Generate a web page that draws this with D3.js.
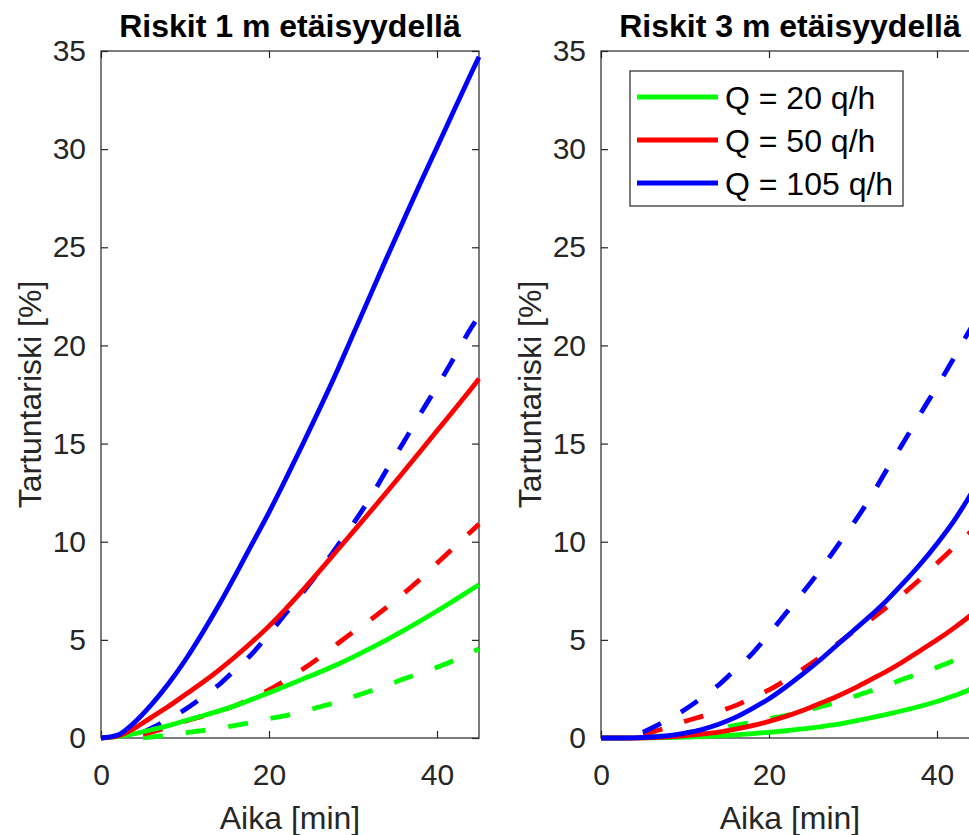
<!DOCTYPE html>
<html>
<head>
<meta charset="utf-8">
<script src="https://cdn.jsdelivr.net/npm/d3@7"></script>
<style>
    html, body { margin: 0; padding: 0; background: #ffffff; }
    svg { display: block; font-family: "Liberation Sans", Arial, Helvetica, sans-serif; }
</style>
</head>
<body>
<svg id="chart" width="969" height="835"></svg>
<script>
// Time grids [min]
const timeSolid  = [0, 2, 4, 6, 8, 10, 12, 14, 16, 18, 20, 22, 24, 26, 28, 30, 32, 34, 36, 38, 40, 42, 44, 45];
const timeDashed = [5, 6, 8, 10, 12, 14, 16, 18, 20, 22, 24, 26, 28, 30, 32, 34, 36, 38, 40, 42, 44, 45];

// Solid lines, 1 m distance [%]
const green1m = [0, 0.07, 0.22, 0.42, 0.63, 0.88, 1.12, 1.37, 1.65, 1.97, 2.3, 2.65, 3.0, 3.35, 3.72, 4.12, 4.55, 5.0, 5.47, 5.96, 6.47, 7.0, 7.54, 7.81];
const red1m   = [0, 0.1, 0.5, 1.05, 1.6, 2.2, 2.8, 3.45, 4.15, 4.9, 5.7, 6.58, 7.52, 8.5, 9.5, 10.5, 11.5, 12.52, 13.55, 14.6, 15.65, 16.7, 17.76, 18.3];
const blue1m  = [0, 0.15, 0.8, 1.7, 2.75, 3.95, 5.3, 6.75, 8.3, 9.9, 11.5, 13.2, 14.95, 16.75, 18.6, 20.55, 22.5, 24.45, 26.35, 28.25, 30.1, 31.95, 33.8, 34.7];

// Solid lines, 3 m distance [%]
const green3m = [0, 0, 0.005, 0.01, 0.02, 0.04, 0.07, 0.11, 0.16, 0.22, 0.29, 0.37, 0.46, 0.57, 0.69, 0.85, 1.02, 1.2, 1.4, 1.62, 1.86, 2.15, 2.48, 2.65];
const red3m   = [0, 0, 0, 0.02, 0.06, 0.12, 0.2, 0.3, 0.45, 0.63, 0.85, 1.1, 1.4, 1.75, 2.1, 2.5, 2.95, 3.4, 3.9, 4.45, 5.0, 5.6, 6.25, 6.6];
const blue3m  = [0, 0, 0.01, 0.05, 0.12, 0.25, 0.43, 0.7, 1.05, 1.5, 2.0, 2.6, 3.25, 3.95, 4.7, 5.45, 6.2, 7.0, 7.9, 8.85, 9.9, 11.05, 12.4, 13.1];

// Dashed lines (same in both panels) [%]
const greenDashed = [0.02, 0.05, 0.15, 0.26, 0.37, 0.5, 0.64, 0.8, 0.98, 1.14, 1.36, 1.58, 1.82, 2.1, 2.38, 2.68, 3.0, 3.3, 3.6, 3.95, 4.35, 4.53];
const redDashed   = [0.2, 0.3, 0.55, 0.85, 1.1, 1.35, 1.65, 2.05, 2.45, 2.95, 3.5, 4.1, 4.75, 5.4, 6.0, 6.65, 7.35, 8.1, 8.9, 9.7, 10.5, 10.9];
const blueDashed  = [0.3, 0.5, 0.95, 1.45, 2.05, 2.7, 3.5, 4.3, 5.3, 6.35, 7.4, 8.5, 9.7, 10.9, 12.2, 13.65, 15.05, 16.5, 17.9, 19.35, 20.85, 21.5];

const legendLabels = ["Q = 20 q/h", "Q = 50 q/h", "Q = 105 q/h"];
const colors = ["#00ff00", "#ff0000", "#0000ff"];
const panelTitles = ["Riskit 1 m etäisyydellä", "Riskit 3 m etäisyydellä"];
const xTicks = [0, 20, 40];
const yTicks = [0, 5, 10, 15, 20, 25, 30, 35];

const axisColor = "#262626";
const svg = d3.select("#chart");
svg.append("rect").attr("width", 969).attr("height", 835).attr("fill", "#ffffff");

const plotTop = 51, plotBottom = 738, plotWidth = 378;
const panelLeft = [101, 601];

function zip(times, values)
{
    return times.map((t, i) => [t, values[i]]);
}

function drawPanel(index, solids, showLegend)
{
    const x = d3.scaleLinear().domain([0, 45]).range([panelLeft[index], panelLeft[index] + plotWidth]);
    const y = d3.scaleLinear().domain([0, 35]).range([plotBottom, plotTop]);
    const g = svg.append("g");

    // Box
    g.append("rect")
        .attr("x", x(0)).attr("y", y(35))
        .attr("width", x(45) - x(0)).attr("height", y(0) - y(35))
        .attr("fill", "none").attr("stroke", axisColor).attr("stroke-width", 1.2);

    // Axes with inward ticks
    const styleAxis = sel => {
        sel.select(".domain").remove();
        sel.selectAll(".tick line").attr("stroke", axisColor).attr("stroke-width", 1.2);
        sel.selectAll(".tick text").attr("fill", axisColor)
            .style("font-size", "30px").style("font-family", "'Liberation Sans', Arial, sans-serif");
    };

    g.append("g").attr("transform", `translate(0,${plotBottom})`)
        .call(d3.axisBottom(x).tickValues(xTicks).tickSizeInner(-7).tickSizeOuter(0).tickPadding(0).tickFormat(d3.format("d")))
        .call(styleAxis)
        .call(sel => sel.selectAll(".tick text").attr("y", 47).attr("dy", null));
    g.append("g").attr("transform", `translate(0,${plotTop})`)
        .call(d3.axisTop(x).tickValues(xTicks).tickSizeInner(-7).tickSizeOuter(0).tickFormat(""))
        .call(styleAxis);
    g.append("g").attr("transform", `translate(${x(0)},0)`)
        .call(d3.axisLeft(y).tickValues(yTicks).tickSizeInner(-7).tickSizeOuter(0).tickPadding(15).tickFormat(d3.format("d")))
        .call(styleAxis);
    g.append("g").attr("transform", `translate(${x(45)},0)`)
        .call(d3.axisRight(y).tickValues(yTicks).tickSizeInner(-7).tickSizeOuter(0).tickFormat(""))
        .call(styleAxis);

    const line = d3.line().x(d => x(d[0])).y(d => y(d[1])).curve(d3.curveMonotoneX);

    // Dashed reference lines first, solid lines on top
    [greenDashed, redDashed, blueDashed].forEach((values, i) => {
        g.append("path").datum(zip(timeDashed, values))
            .attr("d", line).attr("fill", "none")
            .attr("stroke", colors[i]).attr("stroke-width", 4.8)
            .attr("stroke-dasharray", "20,23");
    });
    solids.forEach((values, i) => {
        g.append("path").datum(zip(timeSolid, values))
            .attr("d", line).attr("fill", "none")
            .attr("stroke", colors[i]).attr("stroke-width", 4.8)
            .attr("stroke-linejoin", "round");
    });

    // Texts
    const mid = (x(0) + x(45)) / 2;
    g.append("text").attr("x", mid).attr("y", 37)
        .attr("text-anchor", "middle").attr("fill", "#000000")
        .style("font-size", "32px").style("font-weight", "bold")
        .text(panelTitles[index]);
    g.append("text").attr("x", mid).attr("y", 829)
        .attr("text-anchor", "middle").attr("fill", axisColor)
        .style("font-size", "32px")
        .text("Aika [min]");
    g.append("text")
        .attr("transform", `translate(${x(0) - 60},${(plotTop + plotBottom) / 2}) rotate(-90)`)
        .attr("text-anchor", "middle").attr("fill", axisColor)
        .style("font-size", "32px")
        .text("Tartuntariski [%]");

    if (showLegend)
    {
        const lx = x(0) + 29, ly = 71, lw = 273, lh = 135;
        const legend = g.append("g");
        legend.append("rect").attr("x", lx).attr("y", ly).attr("width", lw).attr("height", lh)
            .attr("fill", "#ffffff").attr("stroke", axisColor).attr("stroke-width", 1.2);
        legendLabels.forEach((label, i) => {
            const rowY = ly + 26 + i * 43;
            legend.append("line")
                .attr("x1", lx + 7).attr("x2", lx + 88)
                .attr("y1", rowY).attr("y2", rowY)
                .attr("stroke", colors[i]).attr("stroke-width", 4.8);
            legend.append("text")
                .attr("x", lx + 95).attr("y", rowY + 12)
                .attr("fill", "#000000").style("font-size", "32px")
                .text(label);
        });
    }
}

drawPanel(0, [green1m, red1m, blue1m], false);
drawPanel(1, [green3m, red3m, blue3m], true);
</script>
</body>
</html>
